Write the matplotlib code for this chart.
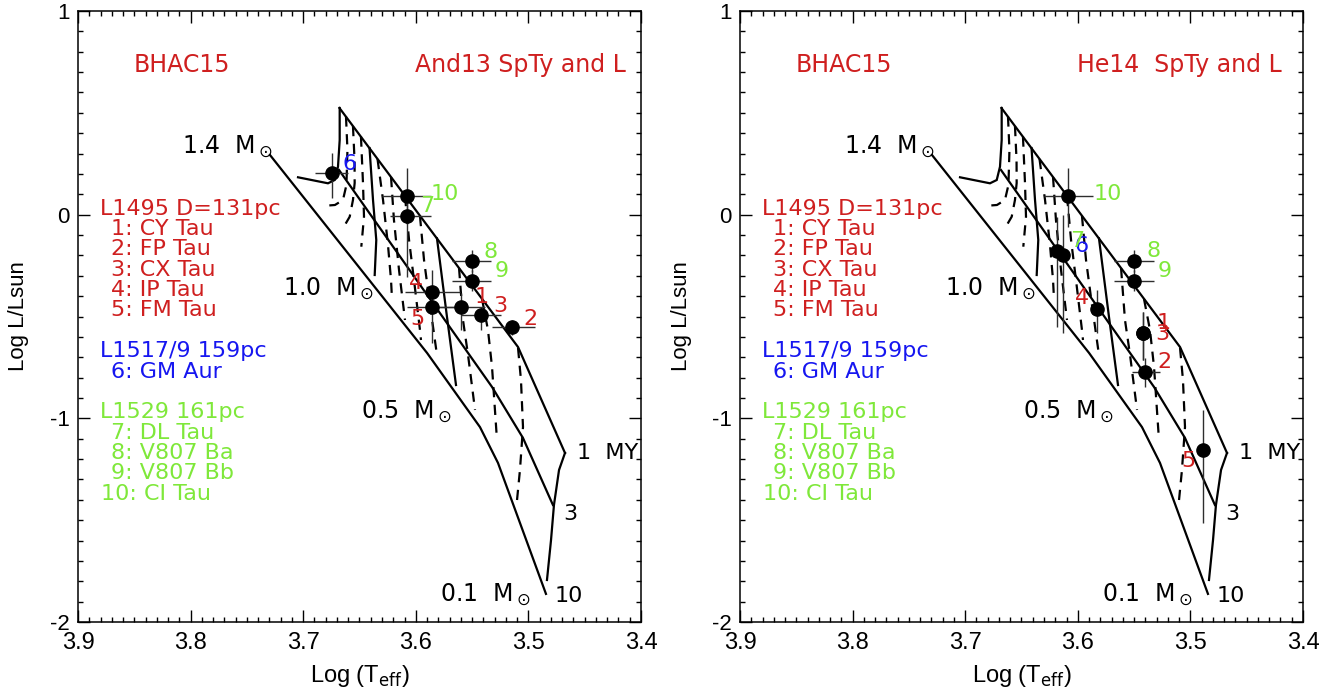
import matplotlib
matplotlib.use("Agg")
import matplotlib.pyplot as plt
from matplotlib.ticker import MultipleLocator

plt.rcParams['font.family'] = ['DejaVu Sans']
plt.rcParams['axes.unicode_minus'] = False

# ---- BHAC15 isochrones (log Teff, log L/Lsun) ----
iso1_T = [3.6678, 3.5092, 3.4675]
iso1_L = [0.5237, -0.650, -1.170]
iso3_T = [3.6682, 3.5323, 3.5048, 3.4782]
iso3_L = [0.2193, -0.846, -1.0965, -1.4255]
iso10_T = [3.7295, 3.590, 3.543, 3.527, 3.4844]
iso10_L = [0.293, -0.679, -1.043, -1.219, -1.862]

# solid mass tracks
m14_T = [3.6676, 3.6676, 3.6691, 3.6720, 3.6780, 3.7046]
m14_L = [0.5237, 0.3666, 0.2355, 0.1702, 0.1540, 0.1835]
m10_T = [3.6411, 3.6380, 3.6351, 3.6365]
m10_L = [0.327, 0.072, -0.1244, -0.2962]
m05_T = [3.5812, 3.5723, 3.5643]
m05_L = [-0.1165, -0.5024, -0.8363]
m01_T = [3.4675, 3.4728, 3.4773, 3.4799, 3.4835]
m01_L = [-1.170, -1.2537, -1.4255, -1.597, -1.7937]

# dashed mass tracks
m13_T = [3.6620, 3.6607, 3.6616, 3.6647, 3.6718, 3.6833]
m13_L = [0.4825, 0.3175, 0.1457, 0.0720, 0.0475, 0.0426]
m12_T = [3.6558, 3.6544, 3.6543, 3.6558, 3.6587, 3.6647]
m12_L = [0.4354, 0.2684, 0.1555, 0.0720, -0.0100, -0.0669]
m11_T = [3.6487, 3.6469, 3.6460, 3.6484]
m11_L = [0.3838, 0.1555, -0.0100, -0.1573]
m09_T = [3.6340, 3.6291, 3.6247, 3.6220, 3.6211]
m09_L = [0.2733, 0.0720, -0.1489, -0.3208, -0.4190]
m08_T = [3.6220, 3.6194, 3.6149, 3.6096]
m08_L = [0.1850, -0.0262, -0.2717, -0.5172]
m07_T = [3.6096, 3.6060, 3.6016, 3.5963, 3.5954]
m07_L = [0.0917, -0.1244, -0.3208, -0.5663, -0.6154]
m06_T = [3.5963, 3.5927, 3.5874, 3.5812]
m06_L = [-0.0065, -0.2226, -0.4435, -0.6890]
m04_T = [3.5616, 3.5581, 3.5536, 3.5474]
m04_L = [-0.2619, -0.5172, -0.6890, -0.9590]
m03_T = [3.5412, 3.5359, 3.5323, 3.5279]
m03_L = [-0.4140, -0.5663, -0.7480, -1.1064]
m02_T = [3.5092, 3.5066, 3.5048, 3.5075, 3.5101]
m02_L = [-0.6546, -0.8118, -1.0425, -1.2537, -1.4010]

# ---- stars (1..10) ----
star_ids = [1, 2, 3, 4, 5, 6, 7, 8, 9, 10]
star_col = ['r', 'r', 'r', 'r', 'r', 'b', 'g', 'g', 'g', 'g']

# And13 spectral types and L
a_T = [3.5599, 3.5143, 3.5421, 3.5859, 3.5859, 3.6747, 3.6081, 3.5504, 3.5504, 3.6081]
a_L = [-0.452, -0.550, -0.4926, -0.381, -0.452, 0.206, -0.0065, -0.226, -0.324, 0.0917]
a_Tlo = [0.0213, 0.020, 0.0178, 0.025, 0.025, 0.0148, 0.022, 0.0175, 0.0175, 0.022]
a_Thi = [0.0213, 0.0183, 0.0178, 0.0237, 0.022, 0.0148, 0.0148, 0.0175, 0.0175, 0.022]
a_Llo = [0.114, 0.040, 0.074, 0.069, 0.180, 0.126, 0.300, 0.054, 0.050, 0.137]
a_Lhi = [0.066, 0.033, 0.040, 0.108, 0.070, 0.095, 0.064, 0.054, 0.050, 0.137]
a_labT = [3.5474, 3.5045, 3.5312, 3.6058, 3.6052, 3.6647, 3.5963, 3.5400, 3.5297, 3.5865]
a_labL = [-0.435, -0.5417, -0.476, -0.365, -0.5417, 0.2193, 0.0146, -0.2143, -0.3075, 0.072]

# He14 spectral types and L
h_T = [3.5418, 3.5403, 3.5418, 3.5827, 3.4885, 3.6134, 3.6187, 3.5501, 3.5501, 3.6084]
h_L = [-0.5825, -0.771, -0.5825, -0.463, -1.155, -0.198, -0.177, -0.226, -0.324, 0.0917]
h_Tlo = [0.0, 0.0133, 0.0, 0.0, 0.0, 0.0, 0.0, 0.0175, 0.0175, 0.022]
h_Thi = [0.0, 0.0118, 0.0, 0.0, 0.0, 0.0, 0.0, 0.0175, 0.0175, 0.022]
h_Llo = [0.131, 0.074, 0.131, 0.120, 0.360, 0.385, 0.373, 0.054, 0.050, 0.151]
h_Lhi = [0.106, 0.066, 0.106, 0.093, 0.196, 0.196, 0.167, 0.054, 0.050, 0.136]
h_labT = [3.5300, 3.5290, 3.5315, 3.6025, 3.5077, 3.6025, 3.6069, 3.5394, 3.5294, 3.5862]
h_labL = [-0.5614, -0.7543, -0.6154, -0.4386, -1.2374, -0.1818, -0.157, -0.2064, -0.3046, 0.072]

# legend text
group_heads = ['L1495 D=131pc', 'L1517/9 159pc', 'L1529 161pc']
group_head_L = [0.0, -0.7, -1.0]
group_head_col = ['r', 'b', 'g']
star_names = ['1: CY Tau', '2: FP Tau', '3: CX Tau', '4: IP Tau', '5: FM Tau',
              '6: GM Aur', '7: DL Tau', '8: V807 Ba', '9: V807 Bb', '10: CI Tau']
star_name_L = [-0.1, -0.2, -0.3, -0.4, -0.5, -0.8, -1.1, -1.2, -1.3, -1.4]

mass_labels = ['1.4  M$_\\odot$', '1.0  M$_\\odot$', '0.5  M$_\\odot$', '0.1  M$_\\odot$']
mass_lab_T = [3.8076, 3.7179, 3.6487, 3.5785]
mass_lab_L = [0.30, -0.40, -1.00, -1.90]
age_labels = ['1  MY', '3', '10']
age_lab_T = [3.4568, 3.4693, 3.4764]
age_lab_L = [-1.20, -1.50, -1.90]

colors = {'r': '#cf1f1f', 'b': '#1616f0', 'g': '#7fe83a'}

fig = plt.figure(figsize=(13.34, 6.94), dpi=100)
ax1 = fig.add_axes([78/1334, 72/694, 563/1334, 611/694])
ax2 = fig.add_axes([740/1334, 72/694, 563/1334, 611/694])

solid = [(iso1_T, iso1_L), (iso3_T, iso3_L), (iso10_T, iso10_L),
         (m14_T, m14_L), (m10_T, m10_L), (m05_T, m05_L), (m01_T, m01_L)]
dashed = [(m13_T, m13_L), (m12_T, m12_L), (m11_T, m11_L), (m09_T, m09_L),
          (m08_T, m08_L), (m07_T, m07_L), (m06_T, m06_L), (m04_T, m04_L),
          (m03_T, m03_L), (m02_T, m02_L)]


def draw_panel(ax, T, L, Tlo, Thi, Llo, Lhi, labT, labL, title):
    for tt, ll in solid:
        ax.plot(tt, ll, color='k', lw=1.6, solid_joinstyle='miter')
    for tt, ll in dashed:
        ax.plot(tt, ll, color='k', lw=1.6, linestyle=(0, (4.6, 3.4)))
    # Teff axis is reversed: "lo" = towards cooler (right)
    ax.errorbar(T, L, xerr=[Tlo, Thi], yerr=[Llo, Lhi], fmt='none',
                ecolor='#2e2e2e', elinewidth=1.0, capsize=0, zorder=3)
    ax.plot(T, L, 'o', color='k', ms=9.5, zorder=4)
    for i in range(len(star_ids)):
        ax.text(labT[i], labL[i], str(star_ids[i]), color=colors[star_col[i]],
                fontsize=16, ha='left', va='baseline', zorder=5)

    ax.text(3.8503, 0.70, 'BHAC15', color=colors['r'], fontsize=17, va='baseline')
    ax.text(3.6005, 0.70, title, color=colors['r'], fontsize=17, va='baseline')

    for s, l, c in zip(group_heads, group_head_L, group_head_col):
        ax.text(3.8805, l, s, color=colors[c], fontsize=16, va='baseline')
    for i, (s, l) in enumerate(zip(star_names, star_name_L)):
        x = 3.8796 if star_ids[i] == 10 else 3.8703
        ax.text(x, l, s, color=colors[star_col[i]], fontsize=16, va='baseline')

    for s, t, l in zip(mass_labels, mass_lab_T, mass_lab_L):
        ax.text(t, l, s, color='k', fontsize=17, va='baseline')
    for s, t, l in zip(age_labels, age_lab_T, age_lab_L):
        ax.text(t, l, s, color='k', fontsize=16, va='baseline')

    ax.set_xlim(3.9, 3.4)
    ax.set_ylim(-2, 1)
    ax.set_xticks([3.9, 3.8, 3.7, 3.6, 3.5, 3.4])
    ax.set_xticklabels(['3.9', '3.8', '3.7', '3.6', '3.5', '3.4'])
    ax.set_yticks([-2, -1, 0, 1])
    ax.set_yticklabels(['-2', '-1', '0', '1'])
    ax.xaxis.set_minor_locator(MultipleLocator(0.01))
    ax.yaxis.set_minor_locator(MultipleLocator(0.1))
    ax.tick_params(which='both', direction='in', top=True, right=True, width=1.0)
    ax.tick_params(which='major', length=8.6)
    ax.tick_params(which='minor', length=3.6)
    ax.tick_params(axis='x', pad=7)
    ax.tick_params(axis='y', pad=6)
    for lab in ax.get_xticklabels():
        lab.set_fontfamily('Liberation Sans')
        lab.set_fontsize(17)
    for lab in ax.get_yticklabels():
        lab.set_fontfamily('Liberation Sans')
        lab.set_fontsize(16)
    for sp in ax.spines.values():
        sp.set_linewidth(1.1)


draw_panel(ax1, a_T, a_L, a_Tlo, a_Thi, a_Llo, a_Lhi, a_labT, a_labL, 'And13 SpTy and L')
draw_panel(ax2, h_T, h_L, h_Tlo, h_Thi, h_Llo, h_Lhi, h_labT, h_labL, 'He14  SpTy and L')

for x0 in (78, 740):
    fig.text((x0 + 281.5) / 1334, 12 / 694, 'Log (T$_{\\mathrm{eff}}$)', ha='center',
             va='baseline', fontsize=17, family='Liberation Sans')
    fig.text((x0 - 59) / 1334, 1 - 316 / 694, 'Log L/Lsun', rotation=90, ha='center',
             va='center', fontsize=16, family='Liberation Sans')

fig.savefig('out.png', dpi=100)
